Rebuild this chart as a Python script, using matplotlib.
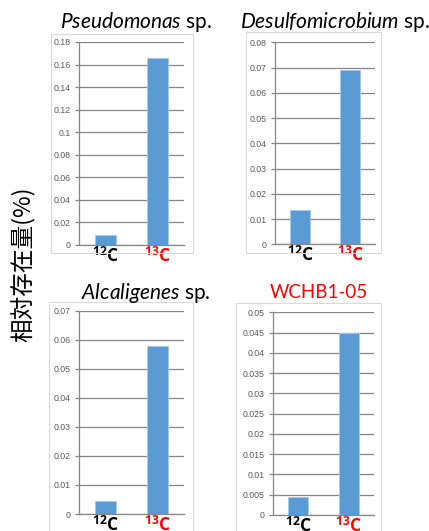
import numpy as np
import matplotlib
matplotlib.use('Agg')
import matplotlib.pyplot as plt
from matplotlib.patches import Rectangle

#----------------------------------------data----------------------------------------
cats = [r'$^{\mathbf{12}}\mathbf{C}$', r'$^{\mathbf{13}}\mathbf{C}$']
genus = ['Pseudomonas', 'Desulfomicrobium', 'Alcaligenes', 'WCHB1-05']
vals_pseudo = [0.009, 0.166]
vals_desulfo = [0.0135, 0.069]
vals_alcali = [0.0046, 0.058]
vals_wchb = [0.0045, 0.045]
ymax = [0.18, 0.08, 0.07, 0.05]
ystep = [0.02, 0.01, 0.01, 0.005]
ylabel = '相対存在量(%)'

plt.rcParams['mathtext.fontset'] = 'custom'
plt.rcParams['mathtext.rm'] = 'Lato'
plt.rcParams['mathtext.it'] = 'Lato:italic'
plt.rcParams['mathtext.bf'] = 'Open Sans:bold'

W, H = 429, 531
fig = plt.figure(figsize=(W/100, H/100), dpi=100)

# axes boxes in pixels: left, right, y of 0, y of top
boxes = [(79, 184, 245, 42), (275, 375, 244.3, 42.3), (79, 184, 514, 310.7), (273, 374, 515, 312.3)]
frames = [(51, 193, 34, 253), (246, 381, 32, 253), (49, 193, 302, 545), (236, 381, 303, 545)]
titles = [(136, 22), (335, 22), (146, 293), (319, 293)]
tsize = [15, 15, 15, 13.5]
data = [vals_pseudo, vals_desulfo, vals_alcali, vals_wchb]

gcol = '#868686'
for k in range(4):
    fx0, fx1, fy0, fy1 = frames[k]
    fig.patches.append(Rectangle((fx0/W, 1-fy1/H), (fx1-fx0)/W, (fy1-fy0)/H,
                                 transform=fig.transFigure, fill=False, edgecolor='#d9d9d9', lw=0.8))
    l, r, y0, y1 = boxes[k]
    ax = fig.add_axes([l/W, 1-y0/H, (r-l)/W, (y0-y1)/H])
    ax.bar([0, 1], data[k], width=0.4, color='#5b9bd5', edgecolor='#a8c7ea', lw=0.6, zorder=3)
    ax.set_xlim(-0.5, 1.5)
    ax.set_ylim(0, ymax[k])
    ticks = np.arange(0, ymax[k]+ystep[k]/2, ystep[k])
    ax.set_yticks(ticks)
    ax.set_yticklabels(['0'] + ['%g' % round(t, 4) for t in ticks[1:]], fontsize=6.3,
                       color='#595959', family='Liberation Sans')
    ax.grid(axis='y', color=gcol, lw=0.9, zorder=0)
    for s in ['top', 'right']:
        ax.spines[s].set_visible(False)
    ax.spines['left'].set_color(gcol)
    ax.spines['bottom'].set_color(gcol)
    ax.spines['left'].set_linewidth(0.9)
    ax.spines['bottom'].set_linewidth(0.9)
    ax.tick_params(axis='y', length=3, width=0.9, color=gcol, pad=3)
    ax.tick_params(axis='x', length=0, pad=1)
    ax.set_xticks([0, 1])
    labs = ax.set_xticklabels(cats, fontsize=12.5)
    labs[0].set_color('black')
    labs[1].set_color('#ff0000')
    tx, ty = titles[k]
    if k < 3:
        t = r'$\mathit{' + genus[k] + r'}$ sp.'
        fig.text(tx/W, 1-ty/H, t, ha='center', va='center', fontsize=tsize[k], family='Lato')
    else:
        fig.text(tx/W, 1-ty/H, genus[k], ha='center', va='center', fontsize=tsize[k],
                 family='Lato', color='#ff0000')

fig.text(23/W, 1-264/H, ylabel, rotation=90, ha='center', va='center', fontsize=17,
         family=['Noto Sans CJK JP', 'DejaVu Sans'])

fig.savefig('out.png', dpi=100)
